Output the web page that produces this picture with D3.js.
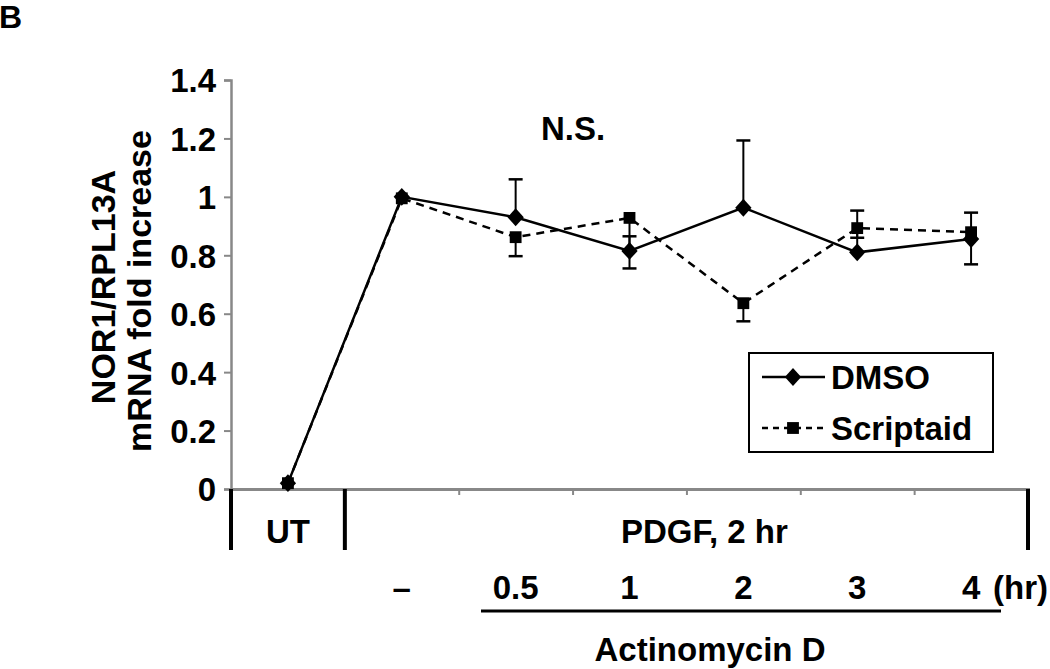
<!DOCTYPE html>
<html>
<head>
<meta charset="utf-8">
<script src="https://cdn.jsdelivr.net/npm/d3@7"></script>
<style>
  body { margin: 0; background: #fff; }
  svg text { font-family: "Liberation Sans", Arial, sans-serif; font-weight: bold; fill: #000; }
</style>
</head>
<body>
<script>
// Chart data
const categories = ['UT', '-', '0.5', '1', '2', '3', '4'];
const dmso = [0.02, 1.0, 0.93, 0.815, 0.963, 0.81, 0.856];
const dmsoErrUp = [0, 0, 0.13, 0.05, 0.23, 0.143, 0.09];
const scriptaid = [0.02, 0.995, 0.862, 0.928, 0.636, 0.893, 0.879];
const scriptaidErrDown = [0, 0, 0.065, 0.173, 0.062, 0.033, 0.11];
const yTicks = [0, 0.2, 0.4, 0.6, 0.8, 1, 1.2, 1.4];
const timeLabels = ['–', '0.5', '1', '2', '3', '4'];

const w = 1050;
const h = 669;
const plot = { left: 231, right: 1028, top: 80, bottom: 489 };
const fs = 33;

const svg = d3.select('body')
  .append('svg')
  .attr('width', w)
  .attr('height', h);

// Scales
const xScale = d3.scaleBand()
  .domain(categories)
  .range([plot.left, plot.right])
  .padding(0);
const xMid = c => xScale(c) + xScale.bandwidth() / 2;

const yScale = d3.scaleLinear()
  .domain([0, 1.4])
  .range([plot.bottom, plot.top]);

// Y axis
const yAxis = d3.axisLeft(yScale)
  .tickValues(yTicks)
  .tickFormat(d3.format('~g'))
  .tickSize(7)
  .tickPadding(8);

const gy = svg.append('g')
  .attr('transform', `translate(${plot.left}, 0)`)
  .call(yAxis);
gy.select('.domain').attr('stroke', '#888').attr('stroke-width', 2.5);
gy.selectAll('.tick line').attr('stroke', '#888').attr('stroke-width', 2);
gy.selectAll('.tick text')
  .attr('font-size', fs)
  .attr('dy', '0.36em')
  .style('font-family', '"Liberation Sans", Arial, sans-serif')
  .style('font-weight', 'bold');

// X axis (ticks at category boundaries)
const xAxisLine = d3.axisBottom(d3.scaleLinear().domain([0, categories.length]).range([plot.left, plot.right]))
  .tickValues(d3.range(2, categories.length))
  .tickSize(6)
  .tickFormat('');
const gx = svg.append('g')
  .attr('transform', `translate(0, ${plot.bottom})`)
  .call(xAxisLine);
gx.select('.domain').attr('stroke', '#888').attr('stroke-width', 3);
gx.selectAll('.tick line').attr('stroke', '#888').attr('stroke-width', 2);

// Group separators
[plot.left, xScale('-'), plot.right].forEach((x) => {
  svg.append('line')
    .attr('x1', x).attr('x2', x)
    .attr('y1', plot.bottom).attr('y2', plot.bottom + 61)
    .attr('stroke', '#000')
    .attr('stroke-width', 4);
});

// Y title
svg.append('text')
  .attr('transform', 'translate(115, 287) rotate(-90)')
  .attr('text-anchor', 'middle')
  .attr('font-size', 34)
  .text('NOR1/RPL13A');
svg.append('text')
  .attr('transform', 'translate(151, 291) rotate(-90)')
  .attr('text-anchor', 'middle')
  .attr('font-size', 34)
  .text('mRNA fold increase');

// Panel letter
svg.append('text')
  .attr('x', -1)
  .attr('y', 28)
  .attr('font-size', 32)
  .text('B');

// N.S.
svg.append('text')
  .attr('x', 573)
  .attr('y', 140)
  .attr('text-anchor', 'middle')
  .attr('font-size', fs)
  .text('N.S.');

// Error bars
const capW = 7;
function errorBar(x, y1, y2) {
  svg.append('line').attr('x1', x).attr('x2', x).attr('y1', y1).attr('y2', y2)
    .attr('stroke', '#000').attr('stroke-width', 2);
  svg.append('line').attr('x1', x - capW).attr('x2', x + capW).attr('y1', y2).attr('y2', y2)
    .attr('stroke', '#000').attr('stroke-width', 2.5);
}
categories.forEach((c, i) => {
  if (dmsoErrUp[i] > 0) errorBar(xMid(c), yScale(dmso[i]), yScale(dmso[i] + dmsoErrUp[i]));
  if (scriptaidErrDown[i] > 0) errorBar(xMid(c), yScale(scriptaid[i]), yScale(scriptaid[i] - scriptaidErrDown[i]));
});

// Lines
const line = d3.line()
  .x((d, i) => xMid(categories[i]))
  .y(d => yScale(d));

svg.append('path')
  .datum(scriptaid)
  .attr('d', line)
  .attr('fill', 'none')
  .attr('stroke', '#000')
  .attr('stroke-width', 2.5)
  .attr('stroke-dasharray', '8,6');

svg.append('path')
  .datum(dmso)
  .attr('d', line)
  .attr('fill', 'none')
  .attr('stroke', '#000')
  .attr('stroke-width', 2.5);

// Markers
const wideDiamond = {
  draw(context, size) {
    const r = Math.sqrt(size) / 1.6;
    context.moveTo(0, -r * 1.1);
    context.lineTo(r, 0);
    context.lineTo(0, r * 1.1);
    context.lineTo(-r, 0);
    context.closePath();
  },
};
const squareSym = d3.symbol().type(d3.symbolSquare).size(140);
const diamondSym = d3.symbol().type(wideDiamond).size(170);

svg.selectAll('.sq')
  .data(scriptaid)
  .enter()
  .append('path')
  .attr('class', 'sq')
  .attr('d', squareSym)
  .attr('transform', (d, i) => `translate(${xMid(categories[i])}, ${yScale(d)})`)
  .attr('fill', '#000');

svg.selectAll('.dm')
  .data(dmso)
  .enter()
  .append('path')
  .attr('class', 'dm')
  .attr('d', diamondSym)
  .attr('transform', (d, i) => `translate(${xMid(categories[i])}, ${yScale(d)})`)
  .attr('fill', '#000');

// Category labels
svg.append('text')
  .attr('x', xMid('UT'))
  .attr('y', 543)
  .attr('text-anchor', 'middle')
  .attr('font-size', fs)
  .text('UT');

svg.append('text')
  .attr('x', (xScale('-') + plot.right) / 2 + 18)
  .attr('y', 543)
  .attr('text-anchor', 'middle')
  .attr('font-size', fs)
  .text('PDGF, 2 hr');

svg.selectAll('.tl')
  .data(timeLabels)
  .enter()
  .append('text')
  .attr('class', 'tl')
  .attr('x', (d, i) => xMid(categories[i + 1]))
  .attr('y', 599)
  .attr('text-anchor', 'middle')
  .attr('font-size', fs)
  .text(d => d);

svg.append('text')
  .attr('x', 1048)
  .attr('y', 599)
  .attr('text-anchor', 'end')
  .attr('font-size', fs)
  .text('(hr)');

svg.append('line')
  .attr('x1', 481).attr('x2', 1001)
  .attr('y1', 611).attr('y2', 611)
  .attr('stroke', '#000')
  .attr('stroke-width', 3);

svg.append('text')
  .attr('x', 710)
  .attr('y', 661)
  .attr('text-anchor', 'middle')
  .attr('font-size', fs)
  .text('Actinomycin D');

// Legend
const legend = svg.append('g').attr('transform', 'translate(749, 353)');
legend.append('rect')
  .attr('width', 244)
  .attr('height', 99)
  .attr('fill', '#fff')
  .attr('stroke', '#000')
  .attr('stroke-width', 2);

const legendItems = [
  { name: 'DMSO', dash: null, sym: diamondSym, y: 24 },
  { name: 'Scriptaid', dash: '6,5', sym: squareSym, y: 75 },
];
legendItems.forEach((item) => {
  legend.append('line')
    .attr('x1', 13).attr('x2', 76)
    .attr('y1', item.y).attr('y2', item.y)
    .attr('stroke', '#000')
    .attr('stroke-width', 2.5)
    .attr('stroke-dasharray', item.dash);
  legend.append('path')
    .attr('d', item.sym)
    .attr('transform', `translate(44, ${item.y})`)
    .attr('fill', '#000');
  legend.append('text')
    .attr('x', 82)
    .attr('y', item.y + 12)
    .attr('font-size', fs)
    .text(item.name);
});
</script>
</body>
</html>
